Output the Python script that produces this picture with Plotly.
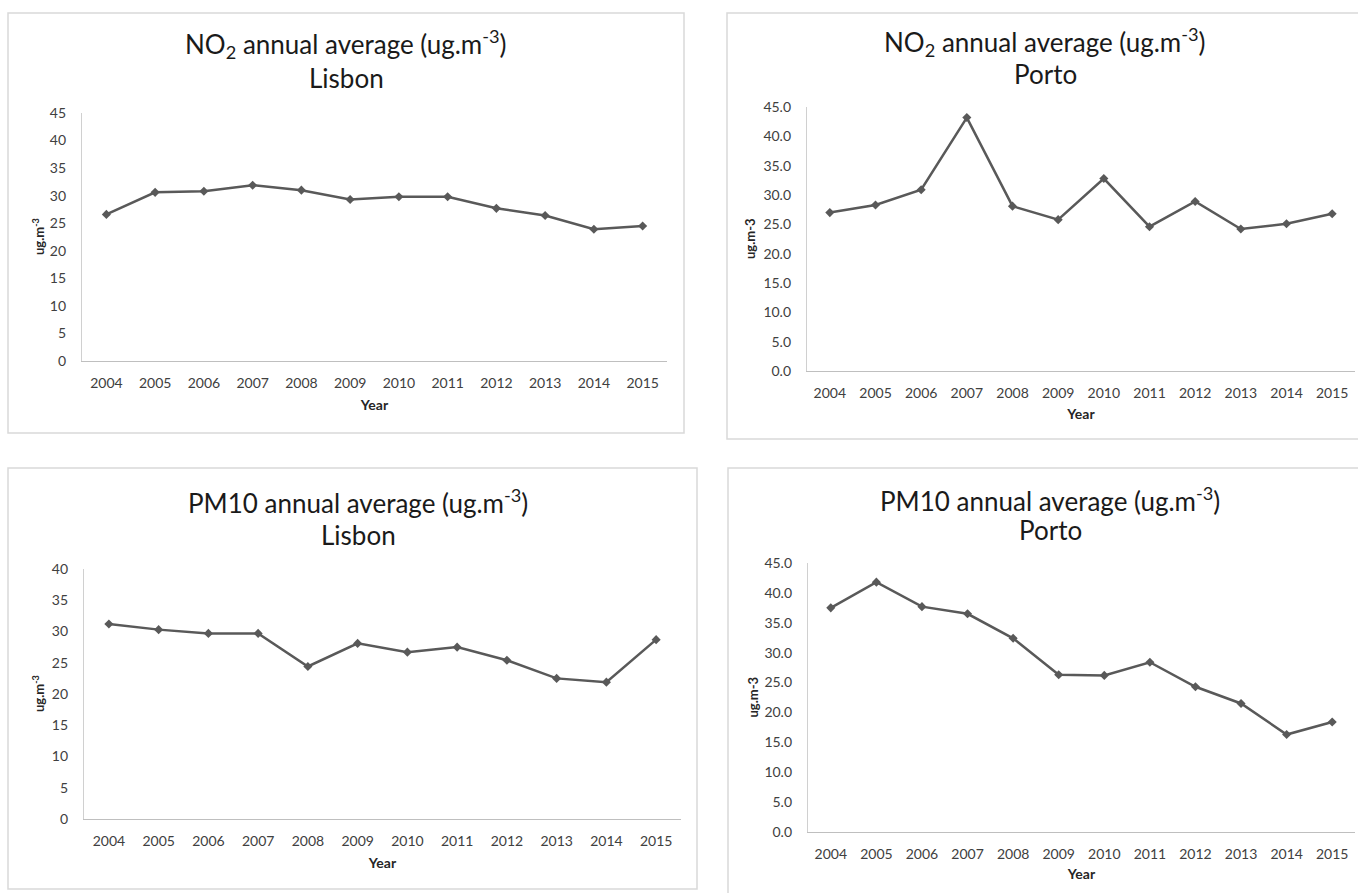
import plotly.graph_objects as go

W, H = 1358, 893

years = ["2004", "2005", "2006", "2007", "2008", "2009",
         "2010", "2011", "2012", "2013", "2014", "2015"]

no2_lisbon = [26.6, 30.6, 30.8, 31.9, 31.0, 29.3, 29.8, 29.8, 27.7, 26.4, 23.9, 24.5]
no2_porto = [27.0, 28.3, 30.9, 43.2, 28.1, 25.8, 32.8, 24.6, 28.9, 24.2, 25.1, 26.8]
pm10_lisbon = [31.2, 30.3, 29.7, 29.7, 24.4, 28.1, 26.7, 27.5, 25.4, 22.5, 21.9, 28.7]
pm10_porto = [37.5, 41.8, 37.7, 36.5, 32.4, 26.3, 26.2, 28.4, 24.3, 21.5, 16.3, 18.4]

FONT = "Lato, sans-serif"
LINE = "#595959"
TXT = "#404040"


def px(x):
    return x / W


def py(y):
    return 1 - y / H


# one entry per chart: data, panel frame, plot area, y range, labels
panels = [
    dict(vals=no2_lisbon, frame=(8, 13, 684, 433), area=(82, 113, 667, 361),
         ymax=45, fmt="d", t1="NO<sub>2</sub> annual average (ug.m<sup>-3</sup>)",
         t2="Lisbon", tx=346, ty1=44, ty2=78, ytitle="ug.m<sup>-3</sup>",
         ytx=38, xstand=10),
    dict(vals=no2_porto, frame=(727, 13, 1380, 439), area=(807, 107, 1355, 371),
         ymax=45, fmt=".1f", t1="NO<sub>2</sub> annual average (ug.m<sup>-3</sup>)",
         t2="Porto", tx=1045, ty1=42, ty2=74, ytitle="ug.m-3",
         ytx=750, xstand=9),
    dict(vals=pm10_lisbon, frame=(8, 468, 697, 889), area=(84, 569, 681, 819),
         ymax=40, fmt="d", t1="PM10 annual average (ug.m<sup>-3</sup>)",
         t2="Lisbon", tx=358, ty1=502, ty2=535, ytitle="ug.m<sup>-3</sup>",
         ytx=38, xstand=10),
    dict(vals=pm10_porto, frame=(728, 468, 1380, 900), area=(808, 563, 1355, 832),
         ymax=45, fmt=".1f", t1="PM10 annual average (ug.m<sup>-3</sup>)",
         t2="Porto", tx=1050, ty1=499, ty2=530, ytitle="ug.m-3",
         ytx=752, xstand=8),
]

fig = go.Figure()
shapes = []
annotations = []
title_font = dict(family=FONT, size=14, color="#262626", weight="bold")

for i, p in enumerate(panels):
    n = "" if i == 0 else str(i + 1)
    xa, ya = "x" + n, "y" + n
    fig.add_trace(go.Scatter(
        x=years, y=p["vals"], mode="lines+markers",
        line=dict(color=LINE, width=2.5),
        marker=dict(symbol="diamond", size=7, color=LINE),
        xaxis=xa, yaxis=ya, showlegend=False, hoverinfo="x+y",
    ))
    x0, y0, x1, y1 = p["area"]
    fig.layout["xaxis" + n] = dict(
        domain=[px(x0), px(x1)], anchor=ya, type="category",
        range=[-0.5, 11.5], showline=True, linecolor="#bfbfbf", linewidth=1.3,
        showgrid=False, zeroline=False, ticks="", ticklabelstandoff=9,
        tickfont=dict(family=FONT, size=14, color=TXT), fixedrange=True,
        title=dict(text="Year", font=title_font, standoff=p["xstand"]),
        automargin=False,
    )
    fig.layout["yaxis" + n] = dict(
        domain=[py(y1), py(y0)], anchor=xa, range=[0, p["ymax"]], dtick=5,
        tickformat=p["fmt"], showline=True, linecolor="#d0d0d0", linewidth=1.3,
        showgrid=False, zeroline=False, ticks="", ticklabelstandoff=12,
        tickfont=dict(family=FONT, size=14, color=TXT), fixedrange=True,
        automargin=False,
    )
    fx0, fy0, fx1, fy1 = p["frame"]
    shapes.append(dict(type="rect", xref="paper", yref="paper",
                       x0=px(fx0), x1=px(fx1), y0=py(fy1), y1=py(fy0),
                       line=dict(color="#d9d9d9", width=1.5), layer="below"))
    annotations += [
        dict(text=p["t1"], x=px(p["tx"]), y=py(p["ty1"]), xanchor="center",
             yanchor="middle", font=dict(family=FONT, size=26, color="#1a1a1a")),
        dict(text=p["t2"], x=px(p["tx"]), y=py(p["ty2"]), xanchor="center",
             yanchor="middle", font=dict(family=FONT, size=26, color="#1a1a1a")),
        dict(text="<b>" + p["ytitle"] + "</b>", x=px(p["ytx"]),
             y=py((y0 + y1) / 2), xanchor="center", yanchor="middle",
             textangle=-90, font=dict(family=FONT, size=13, color="#262626")),
    ]

for a in annotations:
    a.update(xref="paper", yref="paper", showarrow=False)

fig.update_layout(
    width=W, height=H, margin=dict(l=0, r=0, t=0, b=0),
    paper_bgcolor="white", plot_bgcolor="white",
    shapes=shapes, annotations=annotations, showlegend=False,
)

fig.write_html("out.html", config={"displayModeBar": False})
